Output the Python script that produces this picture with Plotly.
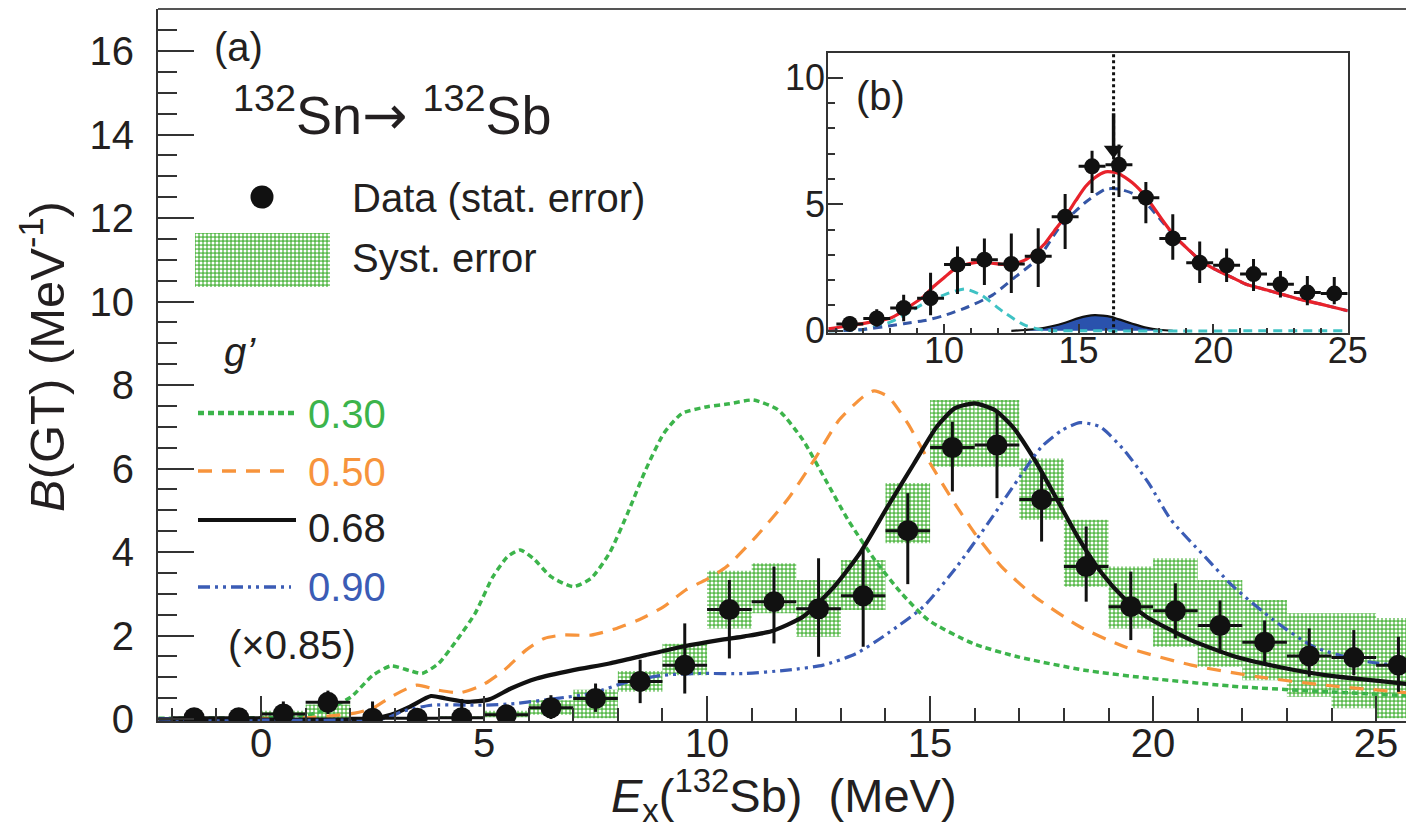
import plotly.graph_objects as go

# ---------------- data ----------------
ex_bins = [-1.5, -0.5, 0.5, 1.5, 2.5, 3.5, 4.5, 5.5, 6.5, 7.5, 8.5, 9.5, 10.5, 11.5,
           12.5, 13.5, 14.5, 15.5, 16.5, 17.5, 18.5, 19.5, 20.5, 21.5, 22.5, 23.5, 24.5, 25.5]
bgt = [0.03, 0.03, 0.12, 0.40, 0.02, 0.02, 0.03, 0.10, 0.27, 0.49, 0.90, 1.29, 2.62, 2.81,
       2.64, 2.95, 4.51, 6.50, 6.56, 5.26, 3.65, 2.69, 2.59, 2.24, 1.84, 1.51, 1.47, 1.29]
err_up = [0.02, 0.02, 0.30, 0.28, 0.40, 0.04, 0.45, 0.10, 0.30, 0.36, 0.52, 1.00, 0.71, 0.84,
          1.21, 1.10, 0.90, 0.62, 0.80, 0.62, 0.96, 0.84, 0.66, 0.60, 0.52, 0.66, 0.66, 0.68]
err_dn = [0.02, 0.02, 0.12, 0.28, 0.02, 0.02, 0.03, 0.10, 0.27, 0.32, 0.52, 0.68, 1.17, 1.00,
          1.15, 1.22, 1.28, 1.05, 1.27, 1.01, 0.84, 0.80, 0.66, 0.67, 0.52, 0.50, 0.42, 0.64]
syst_lo = [0.00, 0.00, 0.05, 0.00, 0.00, 0.00, 0.00, 0.04, 0.10, 0.02, 0.65, 1.05, 2.17, 2.53,
           1.97, 2.61, 4.21, 6.04, 6.04, 4.77, 3.17, 2.17, 1.73, 1.25, 0.93, 0.53, 0.26, 0.02]
syst_hi = [0.05, 0.05, 0.20, 0.35, 0.05, 0.05, 0.06, 0.20, 0.45, 0.70, 1.15, 1.80, 3.55, 3.73,
           3.33, 3.81, 5.65, 7.64, 7.64, 6.24, 4.77, 3.65, 3.85, 3.33, 2.85, 2.53, 2.53, 2.42]
bin_width = 1.0

# RPA-type calculations for different g'
g030_x = [-2.3, 0.0, 1.0, 1.54, 2.02, 2.51, 2.91, 3.33, 3.61, 3.98, 4.39, 4.8, 5.2, 5.53, 5.81,
          6.1, 6.5, 7.0, 7.4, 7.81, 8.22, 8.62, 9.03, 9.44, 10.01, 10.5, 11.04, 11.6, 12.15,
          12.66, 13.16, 13.76, 14.36, 14.96, 15.96, 16.96, 18.46, 19.96, 21.96, 23.96, 25.7]
g030_y = [0.02, 0.03, 0.08, 0.26, 0.53, 1.05, 1.27, 1.16, 1.09, 1.33, 1.89, 2.53, 3.41, 3.89, 4.05,
          3.85, 3.41, 3.17, 3.37, 3.97, 4.93, 5.96, 6.84, 7.32, 7.48, 7.55, 7.64, 7.40, 6.68,
          5.72, 4.77, 3.81, 3.01, 2.37, 1.81, 1.49, 1.17, 0.97, 0.77, 0.65, 0.56]
g050_x = [-2.3, 1.0, 2.1, 2.51, 2.91, 3.49, 3.98, 4.46, 4.96, 5.45, 5.94, 6.35, 6.75, 7.4, 7.97,
          8.46, 9.03, 9.52, 10.0, 10.44, 11.1, 11.8, 12.4, 12.96, 13.5, 13.74, 14.06, 14.5, 14.96,
          15.5, 16.0, 16.6, 17.35, 18.36, 19.36, 20.86, 22.36, 23.86, 25.7]
g050_y = [0.01, 0.03, 0.14, 0.26, 0.53, 0.81, 0.69, 0.63, 0.81, 1.17, 1.65, 1.93, 2.01, 2.01, 2.17,
          2.37, 2.69, 3.09, 3.35, 3.65, 4.37, 5.25, 6.20, 7.16, 7.72, 7.86, 7.72, 7.08, 6.20,
          5.25, 4.45, 3.65, 2.93, 2.21, 1.73, 1.29, 1.01, 0.81, 0.63]
g068_x = [-2.3, 2.5, 2.91, 3.33, 3.81, 4.14, 4.63, 5.12, 5.6, 6.18, 7.0, 7.81, 8.62, 9.44, 10.34,
          10.84, 11.44, 12.15, 12.85, 13.45, 14.05, 14.64, 15.15, 15.55, 16.0, 16.45, 16.85,
          17.35, 17.85, 18.35, 18.85, 19.35, 19.85, 20.85, 21.85, 22.85, 23.86, 25.7]
g068_y = [0.0, 0.01, 0.10, 0.29, 0.55, 0.49, 0.41, 0.47, 0.73, 0.97, 1.17, 1.33, 1.53, 1.73, 1.90,
          1.98, 2.10, 2.45, 3.17, 4.01, 5.09, 6.12, 7.00, 7.44, 7.56, 7.40, 7.00,
          6.20, 5.25, 4.29, 3.49, 2.89, 2.45, 1.89, 1.49, 1.24, 1.05, 0.84]
g090_x = [-2.3, 2.8, 3.16, 3.81, 4.96, 5.69, 6.6, 7.4, 8.22, 9.03, 9.84, 10.84, 11.8, 12.6, 13.35,
          14.05, 14.85, 15.6, 16.3, 16.96, 17.5, 17.96, 18.36, 18.81, 19.35, 19.9, 20.4, 21.16,
          21.8, 22.7, 23.6, 24.65, 25.7]
g090_y = [0.0, 0.02, 0.18, 0.33, 0.33, 0.37, 0.49, 0.61, 0.89, 1.05, 1.09, 1.09, 1.17, 1.29, 1.57,
          2.05, 2.69, 3.65, 4.69, 5.72, 6.52, 6.92, 7.10, 7.00, 6.44, 5.65, 4.77, 3.89,
          3.17, 2.37, 1.73, 1.40, 1.25]

# inset (b): fit components
fit_x = [5.7, 6.5, 7.3, 8.0, 8.36, 8.7, 9.23, 9.6, 10.0, 10.47, 10.8, 11.2, 11.7, 12.25, 12.6,
         13.0, 13.4, 13.75, 14.1, 14.5, 14.9, 15.25, 15.6, 16.0, 16.45, 17.0, 17.5, 18.2, 18.6,
         19.1, 19.5, 20.0, 20.75, 21.2, 22.0, 22.7, 23.24, 24.2, 25.0]
fit_y = [0.08, 0.20, 0.35, 0.50, 0.70, 0.95, 1.34, 1.74, 2.10, 2.50, 2.62, 2.70, 2.68, 2.62, 2.65,
         2.79, 3.10, 3.45, 3.95, 4.50, 5.15, 5.69, 6.05, 6.28, 6.24, 5.85, 5.30, 4.25, 3.70,
         3.19, 2.80, 2.47, 2.08, 1.85, 1.61, 1.40, 1.24, 1.00, 0.79]
gtr_x = [5.7, 7.0, 8.0, 8.5, 9.35, 10.0, 10.9, 11.8, 12.65, 13.5, 14.3, 15.2, 16.0, 16.5, 17.0,
         17.5, 18.0, 18.6, 19.1, 19.5, 20.0, 20.75, 21.2, 22.0, 22.7, 23.24, 24.2, 25.0]
gtr_y = [0.0, 0.05, 0.20, 0.28, 0.42, 0.60, 0.95, 1.41, 2.13, 2.86, 4.10, 5.03, 5.60, 5.60, 5.43,
         5.05, 4.45, 3.70, 3.19, 2.80, 2.47, 2.08, 1.85, 1.61, 1.40, 1.24, 1.00, 0.79]
low_x = [5.7, 7.0, 7.9, 8.5, 9.2, 10.2, 10.8, 11.4, 12.2, 13.0, 13.75, 15.0, 25.0]
low_y = [0.0, 0.05, 0.30, 0.60, 1.05, 1.50, 1.65, 1.40, 0.75, 0.22, 0.02, 0.0, 0.0]
ivsgr_x = [12.5, 13.0, 13.5, 14.0, 14.5, 15.0, 15.3, 15.6, 15.9, 16.2, 16.5, 17.0, 17.5, 18.0, 18.5]
ivsgr_y = [0.0, 0.03, 0.08, 0.18, 0.32, 0.50, 0.58, 0.62, 0.60, 0.55, 0.45, 0.28, 0.13, 0.04, 0.0]
peak_energy = 16.3
peak_arrow_y = [7.15, 8.6]

# ---------------- styling helpers ----------------
W, H = 1406, 828
ML, MR, MT, MB = 158, 0, 9, 107
PW, PH = W - ML - MR, H - MT - MB
FONT = "Liberation Sans, Arial, Helvetica, sans-serif"
INK = "#231f20"
GREEN = "#3cb44b"
ORANGE = "#f7943c"
BLUE = "#3b5cb5"
SYST_BASE = "#5bbb4e"
SYST_PATTERN = dict(shape=".", size=4, solidity=0.45, fgcolor="white",
                    bgcolor=SYST_BASE, fillmode="replace")


def px(x):
    return (x - ML) / PW


def py(y):
    return (H - MB - y) / PH


inset_idx = [i for i, e in enumerate(ex_bins) if 6 <= e <= 25]

fig = go.Figure()

# systematic error boxes
fig.add_trace(go.Bar(
    x=ex_bins, y=[h - l for h, l in zip(syst_hi, syst_lo)], base=syst_lo, width=bin_width,
    marker=dict(color=SYST_BASE, line=dict(width=0), pattern=SYST_PATTERN),
    showlegend=False, hoverinfo="skip"))

line_styles = [
    (g030_x, g030_y, GREEN, "6px,4px", 3.5),
    (g050_x, g050_y, ORANGE, "14px,10px", 3.2),
    (g068_x, g068_y, "#111111", "solid", 4.2),
    (g090_x, g090_y, BLUE, "12px,5px,3px,5px,3px,5px", 3.2),
]
for xs, ys, col, dash, w in line_styles:
    fig.add_trace(go.Scatter(x=xs, y=ys, mode="lines", line=dict(color=col, dash=dash, width=w,
                                                                 shape="spline", smoothing=0.6),
                             showlegend=False, hoverinfo="skip"))

# data points
fig.add_trace(go.Scatter(
    x=ex_bins, y=bgt, mode="markers",
    marker=dict(color="#111111", size=21),
    error_x=dict(type="constant", value=bin_width / 2, thickness=3, width=0, color="#111111"),
    error_y=dict(type="data", symmetric=False, array=err_up, arrayminus=err_dn,
                 thickness=3, width=0, color="#111111"),
    showlegend=False, hoverinfo="skip"))

# ---- inset (b) ----
fig.add_trace(go.Scatter(x=ivsgr_x, y=ivsgr_y, xaxis="x2", yaxis="y2", mode="lines",
                         fill="tozeroy", fillcolor="#2a52ad",
                         line=dict(color="#111111", width=2.2, shape="spline"),
                         showlegend=False, hoverinfo="skip"))
fig.add_trace(go.Scatter(x=low_x, y=low_y, xaxis="x2", yaxis="y2", mode="lines",
                         line=dict(color="#3fc2c4", dash="9px,6px", width=3, shape="spline",
                                   smoothing=0.6),
                         showlegend=False, hoverinfo="skip"))
fig.add_trace(go.Scatter(x=gtr_x, y=gtr_y, xaxis="x2", yaxis="y2", mode="lines",
                         line=dict(color="#3556a6", dash="9px,6px", width=3, shape="spline",
                                   smoothing=0.6),
                         showlegend=False, hoverinfo="skip"))
fig.add_trace(go.Scatter(x=fit_x, y=fit_y, xaxis="x2", yaxis="y2", mode="lines",
                         line=dict(color="#e8222b", width=3.2, shape="spline", smoothing=0.6),
                         showlegend=False, hoverinfo="skip"))
fig.add_trace(go.Scatter(
    x=[ex_bins[i] for i in inset_idx], y=[bgt[i] for i in inset_idx],
    xaxis="x2", yaxis="y2", mode="markers",
    marker=dict(color="#111111", size=16),
    error_x=dict(type="constant", value=bin_width / 2, thickness=3, width=0, color="#111111"),
    error_y=dict(type="data", symmetric=False, array=[err_up[i] for i in inset_idx],
                 arrayminus=[err_dn[i] for i in inset_idx], thickness=3, width=0,
                 color="#111111"),
    showlegend=False, hoverinfo="skip"))
fig.add_trace(go.Scatter(x=[peak_energy, peak_energy], y=peak_arrow_y, xaxis="x2", yaxis="y2",
                         mode="lines", line=dict(color="#111111", width=3.5),
                         showlegend=False, hoverinfo="skip"))
fig.add_trace(go.Scatter(x=[peak_energy], y=[peak_arrow_y[0]], xaxis="x2", yaxis="y2",
                         mode="markers", marker=dict(symbol="triangle-down", size=17,
                                                     color="#111111"),
                         showlegend=False, hoverinfo="skip"))

# legend swatch for syst. error (hidden axes)
fig.add_trace(go.Bar(x=[0.5], y=[1], width=1, xaxis="x3", yaxis="y3",
                     marker=dict(color=SYST_BASE, line=dict(width=0), pattern=SYST_PATTERN),
                     showlegend=False, hoverinfo="skip"))

axis_common = dict(showline=True, linecolor="#333333", linewidth=2, showgrid=False,
                   zeroline=False, ticks="inside", tickcolor="#333333", tickwidth=2,
                   automargin=False,
                   tickfont=dict(family=FONT, size=40, color=INK))

fig.update_layout(
    width=W, height=H, margin=dict(l=ML, r=MR, t=MT, b=MB, pad=0, autoexpand=False),
    paper_bgcolor="white", plot_bgcolor="white", barmode="overlay",
    font=dict(family=FONT, color=INK),
    xaxis=dict(axis_common, range=[-2.31, 25.67], tick0=0, dtick=5, ticklen=25,
               ticklabelstandoff=-14,
               minor=dict(ticks="inside", dtick=1, ticklen=13, tickwidth=2, tickcolor="#333333")),
    yaxis=dict(axis_common, range=[-0.048, 17.006], tick0=0, dtick=2, ticklen=36,
               ticklabelstandoff=14,
               minor=dict(ticks="inside", dtick=0.5, ticklen=19, tickwidth=2,
                          tickcolor="#333333")),
    xaxis2=dict(axis_common, domain=[0.5371, 0.9533], anchor="y2", range=[5.7, 25],
                mirror=True, tick0=0, dtick=5, ticklen=9, ticklabelstandoff=-16,
                tickfont=dict(family=FONT, size=36, color=INK),
                minor=dict(ticks="inside", dtick=1, ticklen=5, tickwidth=2, tickcolor="#333333")),
    yaxis2=dict(axis_common, domain=[0.5445, 0.9386], anchor="x2", range=[-0.10, 10.99],
                mirror=True, tick0=0, dtick=5, ticklen=15, ticklabelstandoff=-6,
                tickfont=dict(family=FONT, size=36, color=INK),
                minor=dict(ticks="inside", dtick=1, ticklen=7, tickwidth=2, tickcolor="#333333")),
    xaxis3=dict(domain=[px(195), px(330)], anchor="y3", range=[0, 1], visible=False,
                automargin=False),
    yaxis3=dict(domain=[py(287), py(233)], anchor="x3", range=[0, 1], visible=False,
                automargin=False),
)

shapes = [
    # top frame of main panel
    dict(type="line", xref="paper", yref="paper", x0=0, x1=1, y0=1, y1=1,
         line=dict(color="#555555", width=2)),
    # vertical dotted line at the peak in inset
    dict(type="line", xref="x2", yref="y2 domain", x0=peak_energy, x1=peak_energy, y0=0, y1=1,
         line=dict(color="#111111", width=3, dash="dot")),
    # legend marker
    dict(type="circle", xref="paper", yref="paper", x0=px(250.5), x1=px(273.5),
         y0=py(208.5), y1=py(185.5), fillcolor="#111111", line=dict(width=0)),
]
legend_lines = [
    (413, 295, GREEN, "6px,4px", 4.5),
    (471, 284, ORANGE, "14px,10px", 3.5),
    (520, 296, "#111111", "solid", 4.2),
    (587, 291, BLUE, "12px,5px,3px,5px,3px,5px", 3.5),
]
for yy, x1, col, dash, w in legend_lines:
    shapes.append(dict(type="line", xref="paper", yref="paper", x0=px(198), x1=px(x1),
                       y0=py(yy), y1=py(yy), line=dict(color=col, dash=dash, width=w)))
fig.update_layout(shapes=shapes)


def ann(text, x, y, size, color=INK, xanchor="left", **kw):
    fig.add_annotation(text=text, x=px(x), y=py(y), xref="paper", yref="paper",
                       xanchor=xanchor, yanchor="middle", showarrow=False,
                       font=dict(family=FONT, size=size, color=color), **kw)


ann("(a)", 238, 47, 40, xanchor="center")
ann("<sup>132</sup>Sn<span style=\"font-family:DejaVu Sans\">\u2192</span> "
    "<sup>132</sup>Sb", 231, 112, 54)
ann("Data (stat. error)", 350, 198, 40)
ann("Syst. error", 350, 258, 40)
ann("<i>g\u2019</i>", 240, 352, 40, xanchor="center")
ann("0.30", 306, 414, 40, color=GREEN)
ann("0.50", 306, 472, 40, color=ORANGE)
ann("0.68", 306, 528, 40, color=INK)
ann("0.90", 306, 587, 40, color=BLUE)
ann("(\u00d70.85)", 226, 645, 40, color=INK)
ann("(b)", 880, 96, 40, xanchor="center")
# axis titles
ann("<i>E</i><sub>x</sub>(<sup>132</sup>Sb)\u00a0\u00a0(MeV)", 784, 795, 47, xanchor="center")
ann("<i>B</i>(GT) (MeV<sup>-1</sup>)", 43, 357, 49, xanchor="center", textangle=-90)

fig.write_html("out.html", config={"displayModeBar": False},
               post_script="document.body.style.margin='0px';"
                           "document.body.style.overflow='hidden';")
